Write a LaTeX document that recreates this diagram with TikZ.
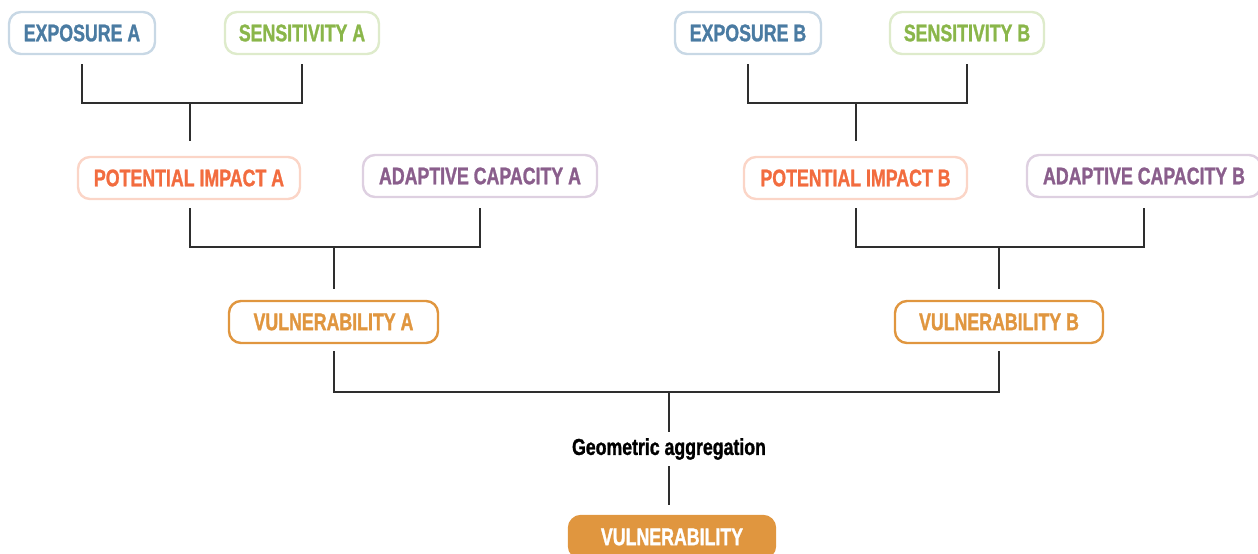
\documentclass[tikz,border=0pt]{standalone}
\usepackage{fontspec}
\newfontfamily\cond{Liberation Sans Bold}[FakeStretch=0.74, FakeBold=1.2]
\newfontfamily\condg{Liberation Sans Bold}[FakeStretch=0.77, FakeBold=1.2]
\definecolor{expT}{HTML}{4A7BA2}
\definecolor{expB}{HTML}{C8D8E5}
\definecolor{senT}{HTML}{8AB64A}
\definecolor{senB}{HTML}{DEEBCB}
\definecolor{potT}{HTML}{F26C3F}
\definecolor{potB}{HTML}{FBD5C7}
\definecolor{adaT}{HTML}{8A5E8C}
\definecolor{adaB}{HTML}{DED0E1}
\definecolor{vulO}{HTML}{E0963F}
\definecolor{lineC}{HTML}{2E2E2E}
\begin{document}
\begin{tikzpicture}[x=1pt,y=-1pt,
  box/.style={rounded corners=12pt, line width=2.4pt, minimum height=42pt,
    inner sep=0pt, font=\cond\fontsize{24}{28}\selectfont},
  exbox/.style={box, draw=expB, text=expT},
  sebox/.style={box, draw=senB, text=senT},
  pobox/.style={box, draw=potB, text=potT},
  adbox/.style={box, draw=adaB, text=adaT},
  vubox/.style={box, draw=vulO, text=vulO},
  fibox/.style={box, draw=vulO, fill=vulO, text=white},
  link/.style={draw=lineC, line width=1.2pt}]
\useasboundingbox (0,0) rectangle (1258,554);
% level 1
\node[exbox, minimum width=146pt] (expA) at (82,33) {EXPOSURE A};
\node[sebox, minimum width=154pt] (sensA) at (302,33) {SENSITIVITY A};
\node[exbox, minimum width=146pt] (expBn) at (748,33) {EXPOSURE B};
\node[sebox, minimum width=154pt] (sensB) at (967,33) {SENSITIVITY B};
% level 2
\node[pobox, minimum width=222pt] (potA) at (189,178) {POTENTIAL IMPACT A};
\node[adbox, minimum width=234pt] (adaA) at (480,176) {ADAPTIVE CAPACITY A};
\node[pobox, minimum width=223pt] (potBn) at (855.5,178) {POTENTIAL IMPACT B};
\node[adbox, minimum width=234pt] (adaB) at (1144,176) {ADAPTIVE CAPACITY B};
% level 3
\node[vubox, minimum width=209pt] (vulA) at (333.5,322) {VULNERABILITY A};
\node[vubox, minimum width=208pt] (vulB) at (999,322) {VULNERABILITY B};
% aggregation
\node[inner sep=0pt, minimum height=34pt, font=\condg\fontsize{23}{26}\selectfont, text=black] (geo) at (669,449) {Geometric aggregation};
\node[fibox, minimum width=206pt] (vul) at (672,537) {VULNERABILITY};
% junctions
\coordinate (jA1) at (190,103);
\coordinate (jB1) at (856,103);
\coordinate (jA2) at (334,247);
\coordinate (jB2) at (999,247);
\coordinate (j3) at (669,392);
% connectors
\draw[link] ([yshift=-9pt]expA.south) |- (jA1) -| ([yshift=-9pt]sensA.south);
\draw[link] (jA1) -- ([yshift=15pt]potA.north -| jA1);
\draw[link] ([yshift=-9pt]expBn.south) |- (jB1) -| ([yshift=-9pt]sensB.south);
\draw[link] (jB1) -- ([yshift=15pt]potBn.north -| jB1);
\draw[link] ([yshift=-8pt]potA.south -| jA1) |- (jA2) -| ([yshift=-10pt]adaA.south);
\draw[link] (jA2) -- ([yshift=11pt]vulA.north -| jA2);
\draw[link] ([yshift=-8pt]potBn.south -| jB1) |- (jB2) -| ([yshift=-10pt]adaB.south);
\draw[link] (jB2) -- ([yshift=11pt]vulB.north -| jB2);
\draw[link] ([yshift=-7pt]vulA.south -| jA2) |- (j3) -| ([yshift=-7pt]vulB.south -| jB2);
\draw[link] (j3) -- (geo.north -| j3);
\draw[link] (geo.south -| j3) -- ([yshift=10pt]vul.north -| j3);
\end{tikzpicture}
\end{document}
